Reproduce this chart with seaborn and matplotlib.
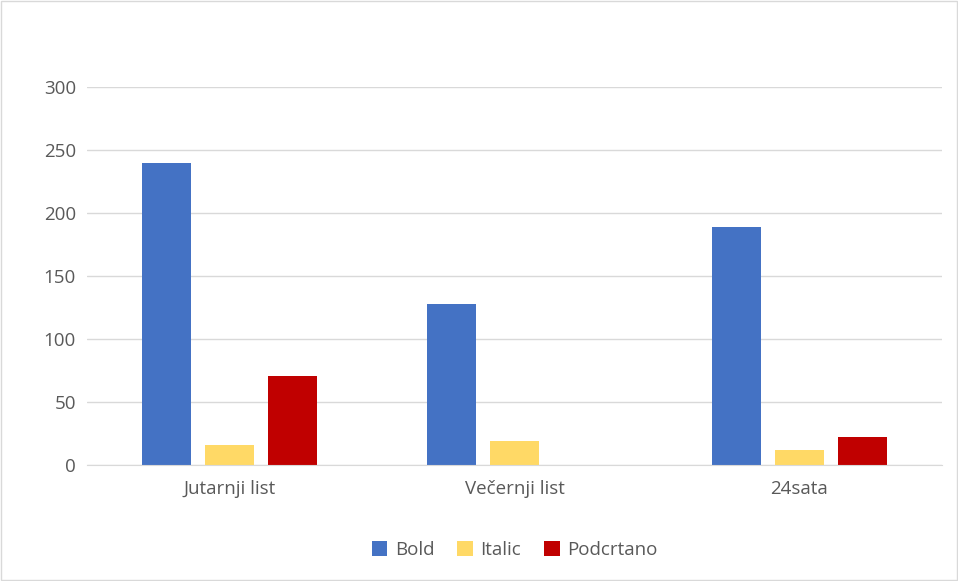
import pandas as pd
import matplotlib.pyplot as plt
import seaborn as sns
from matplotlib.patches import Rectangle

# -----------------------------------------
# Data
# -----------------------------------------
newspapers = ["Jutarnji list", "Večernji list", "24sata"]
styles = ["Bold", "Italic", "Podcrtano"]
bold = [240, 128, 189]
italic = [16, 19, 12]
podcrtano = [71, 0, 22]
colors = ["#4472C4", "#FFD966", "#C00000"]

data = pd.DataFrame({
    "Novina": newspapers * 3,
    "Stil": [s for s in styles for _ in newspapers],
    "Broj": bold + italic + podcrtano,
})

# -----------------------------------------
# Plot
# -----------------------------------------
sns.set_style("white")
plt.rcParams["font.family"] = ["Open Sans", "DejaVu Sans"]

fig = plt.figure(figsize=(9.58, 5.81), dpi=100)
ax = fig.add_axes([87 / 958, 1 - 465 / 581, (942 - 87) / 958, (465 - 87) / 581])

sns.barplot(data=data, x="Novina", y="Broj", hue="Stil", palette=colors,
            saturation=1, width=0.663, gap=0.21, linewidth=0, ax=ax, legend=True)

ax.set_xlim(-0.5, 2.5)
ax.set_ylim(0, 300)
ax.set_yticks(range(0, 301, 50))
ax.yaxis.grid(True, color="#D9D9D9", linewidth=1)
ax.set_axisbelow(True)
for side in ["top", "right", "left"]:
    ax.spines[side].set_visible(False)
ax.spines["bottom"].set_color("#D9D9D9")
ax.tick_params(axis="both", length=0, labelsize=13.5, colors="#595959", pad=8)
ax.tick_params(axis="x", pad=11)
ax.set_xlabel("")
ax.set_ylabel("")

ax.legend(loc="center", bbox_to_anchor=(0.5, -0.225), ncol=3, frameon=False,
          fontsize=13.5, handlelength=0.85, handleheight=0.85, columnspacing=1.2,
          handletextpad=0.4, labelcolor="#595959")

fig.patches.append(Rectangle((0.001, 0.001), 0.998, 0.998, transform=fig.transFigure,
                             fill=False, edgecolor="#D9D9D9", linewidth=1))

plt.savefig("out.png", dpi=100)
plt.close()
